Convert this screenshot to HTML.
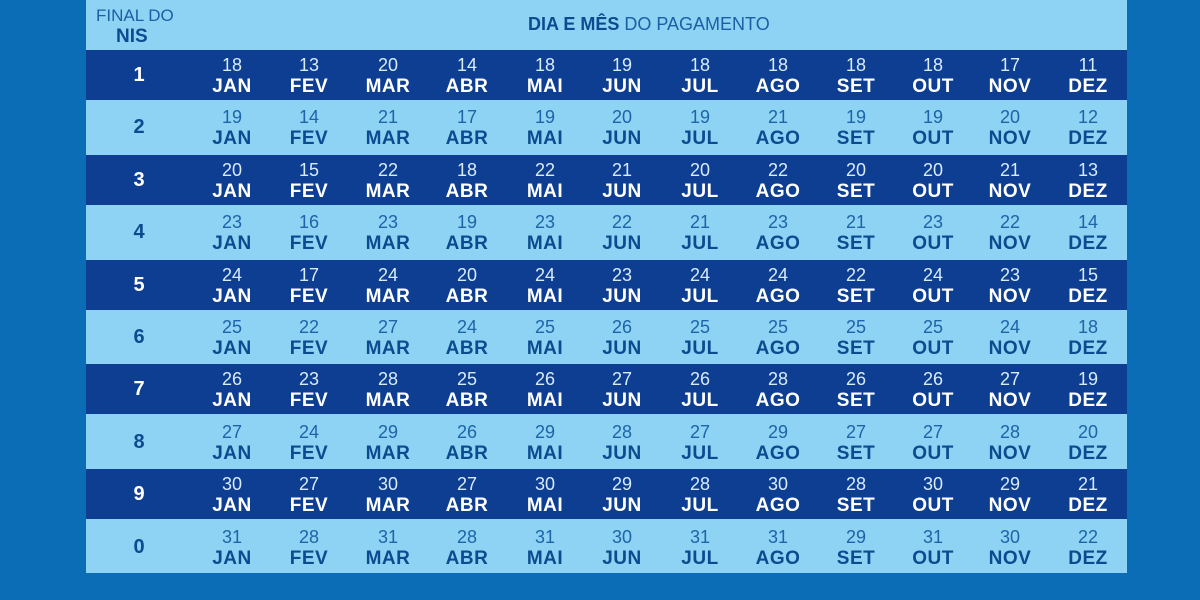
<!DOCTYPE html>
<html><head><meta charset="utf-8"><style>
body{margin:0;width:1200px;height:600px;background:#0b6db5;position:relative;overflow:hidden;font-family:"Liberation Sans",sans-serif}
.panel{position:absolute;left:86px;top:0;width:1041px;height:573px;background:#8ed2f4}
.row{position:absolute;left:86px;width:1041px;height:50px}
.d{background:#0d3e92;color:#fff}
.l{background:#8ed2f4;color:#0d4a8f}
.n{position:absolute;left:28px;width:50px;text-align:center;top:14px;font-weight:bold;font-size:20px}
.c{position:absolute;width:80px;margin-left:-40px;text-align:center;top:5px;line-height:21px}
.c span{display:block;font-size:18px;font-weight:normal}
.d .c span{color:#d8ecff}
.l .c span{color:#1d64a8}
.c b{display:block;font-size:19px;letter-spacing:0.5px}
.hd{position:absolute;color:#0d4a8f}
</style></head><body>
<div class="panel"></div>
<div class="hd" style="left:96px;top:6px;font-size:17px;color:#1d5fa5">FINAL DO</div>
<div class="hd" style="left:116px;top:26px;font-size:19px;font-weight:bold">NIS</div>
<div class="hd" style="left:528px;top:14px;font-size:18px;color:#1d5fa5"><b style="color:#0d4a8f">DIA E MÊS</b> DO PAGAMENTO</div>
<div class="row d" style="top:50px"><div class="n">1</div><div class="c" style="left:146px"><span>18</span><b>JAN</b></div><div class="c" style="left:223px"><span>13</span><b>FEV</b></div><div class="c" style="left:302px"><span>20</span><b>MAR</b></div><div class="c" style="left:381px"><span>14</span><b>ABR</b></div><div class="c" style="left:459px"><span>18</span><b>MAI</b></div><div class="c" style="left:536px"><span>19</span><b>JUN</b></div><div class="c" style="left:614px"><span>18</span><b>JUL</b></div><div class="c" style="left:692px"><span>18</span><b>AGO</b></div><div class="c" style="left:770px"><span>18</span><b>SET</b></div><div class="c" style="left:847px"><span>18</span><b>OUT</b></div><div class="c" style="left:924px"><span>17</span><b>NOV</b></div><div class="c" style="left:1002px"><span>11</span><b>DEZ</b></div></div>
<div class="row l" style="top:102px"><div class="n">2</div><div class="c" style="left:146px"><span>19</span><b>JAN</b></div><div class="c" style="left:223px"><span>14</span><b>FEV</b></div><div class="c" style="left:302px"><span>21</span><b>MAR</b></div><div class="c" style="left:381px"><span>17</span><b>ABR</b></div><div class="c" style="left:459px"><span>19</span><b>MAI</b></div><div class="c" style="left:536px"><span>20</span><b>JUN</b></div><div class="c" style="left:614px"><span>19</span><b>JUL</b></div><div class="c" style="left:692px"><span>21</span><b>AGO</b></div><div class="c" style="left:770px"><span>19</span><b>SET</b></div><div class="c" style="left:847px"><span>19</span><b>OUT</b></div><div class="c" style="left:924px"><span>20</span><b>NOV</b></div><div class="c" style="left:1002px"><span>12</span><b>DEZ</b></div></div>
<div class="row d" style="top:155px"><div class="n">3</div><div class="c" style="left:146px"><span>20</span><b>JAN</b></div><div class="c" style="left:223px"><span>15</span><b>FEV</b></div><div class="c" style="left:302px"><span>22</span><b>MAR</b></div><div class="c" style="left:381px"><span>18</span><b>ABR</b></div><div class="c" style="left:459px"><span>22</span><b>MAI</b></div><div class="c" style="left:536px"><span>21</span><b>JUN</b></div><div class="c" style="left:614px"><span>20</span><b>JUL</b></div><div class="c" style="left:692px"><span>22</span><b>AGO</b></div><div class="c" style="left:770px"><span>20</span><b>SET</b></div><div class="c" style="left:847px"><span>20</span><b>OUT</b></div><div class="c" style="left:924px"><span>21</span><b>NOV</b></div><div class="c" style="left:1002px"><span>13</span><b>DEZ</b></div></div>
<div class="row l" style="top:207px"><div class="n">4</div><div class="c" style="left:146px"><span>23</span><b>JAN</b></div><div class="c" style="left:223px"><span>16</span><b>FEV</b></div><div class="c" style="left:302px"><span>23</span><b>MAR</b></div><div class="c" style="left:381px"><span>19</span><b>ABR</b></div><div class="c" style="left:459px"><span>23</span><b>MAI</b></div><div class="c" style="left:536px"><span>22</span><b>JUN</b></div><div class="c" style="left:614px"><span>21</span><b>JUL</b></div><div class="c" style="left:692px"><span>23</span><b>AGO</b></div><div class="c" style="left:770px"><span>21</span><b>SET</b></div><div class="c" style="left:847px"><span>23</span><b>OUT</b></div><div class="c" style="left:924px"><span>22</span><b>NOV</b></div><div class="c" style="left:1002px"><span>14</span><b>DEZ</b></div></div>
<div class="row d" style="top:260px"><div class="n">5</div><div class="c" style="left:146px"><span>24</span><b>JAN</b></div><div class="c" style="left:223px"><span>17</span><b>FEV</b></div><div class="c" style="left:302px"><span>24</span><b>MAR</b></div><div class="c" style="left:381px"><span>20</span><b>ABR</b></div><div class="c" style="left:459px"><span>24</span><b>MAI</b></div><div class="c" style="left:536px"><span>23</span><b>JUN</b></div><div class="c" style="left:614px"><span>24</span><b>JUL</b></div><div class="c" style="left:692px"><span>24</span><b>AGO</b></div><div class="c" style="left:770px"><span>22</span><b>SET</b></div><div class="c" style="left:847px"><span>24</span><b>OUT</b></div><div class="c" style="left:924px"><span>23</span><b>NOV</b></div><div class="c" style="left:1002px"><span>15</span><b>DEZ</b></div></div>
<div class="row l" style="top:312px"><div class="n">6</div><div class="c" style="left:146px"><span>25</span><b>JAN</b></div><div class="c" style="left:223px"><span>22</span><b>FEV</b></div><div class="c" style="left:302px"><span>27</span><b>MAR</b></div><div class="c" style="left:381px"><span>24</span><b>ABR</b></div><div class="c" style="left:459px"><span>25</span><b>MAI</b></div><div class="c" style="left:536px"><span>26</span><b>JUN</b></div><div class="c" style="left:614px"><span>25</span><b>JUL</b></div><div class="c" style="left:692px"><span>25</span><b>AGO</b></div><div class="c" style="left:770px"><span>25</span><b>SET</b></div><div class="c" style="left:847px"><span>25</span><b>OUT</b></div><div class="c" style="left:924px"><span>24</span><b>NOV</b></div><div class="c" style="left:1002px"><span>18</span><b>DEZ</b></div></div>
<div class="row d" style="top:364px"><div class="n">7</div><div class="c" style="left:146px"><span>26</span><b>JAN</b></div><div class="c" style="left:223px"><span>23</span><b>FEV</b></div><div class="c" style="left:302px"><span>28</span><b>MAR</b></div><div class="c" style="left:381px"><span>25</span><b>ABR</b></div><div class="c" style="left:459px"><span>26</span><b>MAI</b></div><div class="c" style="left:536px"><span>27</span><b>JUN</b></div><div class="c" style="left:614px"><span>26</span><b>JUL</b></div><div class="c" style="left:692px"><span>28</span><b>AGO</b></div><div class="c" style="left:770px"><span>26</span><b>SET</b></div><div class="c" style="left:847px"><span>26</span><b>OUT</b></div><div class="c" style="left:924px"><span>27</span><b>NOV</b></div><div class="c" style="left:1002px"><span>19</span><b>DEZ</b></div></div>
<div class="row l" style="top:417px"><div class="n">8</div><div class="c" style="left:146px"><span>27</span><b>JAN</b></div><div class="c" style="left:223px"><span>24</span><b>FEV</b></div><div class="c" style="left:302px"><span>29</span><b>MAR</b></div><div class="c" style="left:381px"><span>26</span><b>ABR</b></div><div class="c" style="left:459px"><span>29</span><b>MAI</b></div><div class="c" style="left:536px"><span>28</span><b>JUN</b></div><div class="c" style="left:614px"><span>27</span><b>JUL</b></div><div class="c" style="left:692px"><span>29</span><b>AGO</b></div><div class="c" style="left:770px"><span>27</span><b>SET</b></div><div class="c" style="left:847px"><span>27</span><b>OUT</b></div><div class="c" style="left:924px"><span>28</span><b>NOV</b></div><div class="c" style="left:1002px"><span>20</span><b>DEZ</b></div></div>
<div class="row d" style="top:469px"><div class="n">9</div><div class="c" style="left:146px"><span>30</span><b>JAN</b></div><div class="c" style="left:223px"><span>27</span><b>FEV</b></div><div class="c" style="left:302px"><span>30</span><b>MAR</b></div><div class="c" style="left:381px"><span>27</span><b>ABR</b></div><div class="c" style="left:459px"><span>30</span><b>MAI</b></div><div class="c" style="left:536px"><span>29</span><b>JUN</b></div><div class="c" style="left:614px"><span>28</span><b>JUL</b></div><div class="c" style="left:692px"><span>30</span><b>AGO</b></div><div class="c" style="left:770px"><span>28</span><b>SET</b></div><div class="c" style="left:847px"><span>30</span><b>OUT</b></div><div class="c" style="left:924px"><span>29</span><b>NOV</b></div><div class="c" style="left:1002px"><span>21</span><b>DEZ</b></div></div>
<div class="row l" style="top:522px"><div class="n">0</div><div class="c" style="left:146px"><span>31</span><b>JAN</b></div><div class="c" style="left:223px"><span>28</span><b>FEV</b></div><div class="c" style="left:302px"><span>31</span><b>MAR</b></div><div class="c" style="left:381px"><span>28</span><b>ABR</b></div><div class="c" style="left:459px"><span>31</span><b>MAI</b></div><div class="c" style="left:536px"><span>30</span><b>JUN</b></div><div class="c" style="left:614px"><span>31</span><b>JUL</b></div><div class="c" style="left:692px"><span>31</span><b>AGO</b></div><div class="c" style="left:770px"><span>29</span><b>SET</b></div><div class="c" style="left:847px"><span>31</span><b>OUT</b></div><div class="c" style="left:924px"><span>30</span><b>NOV</b></div><div class="c" style="left:1002px"><span>22</span><b>DEZ</b></div></div>
</body></html>
